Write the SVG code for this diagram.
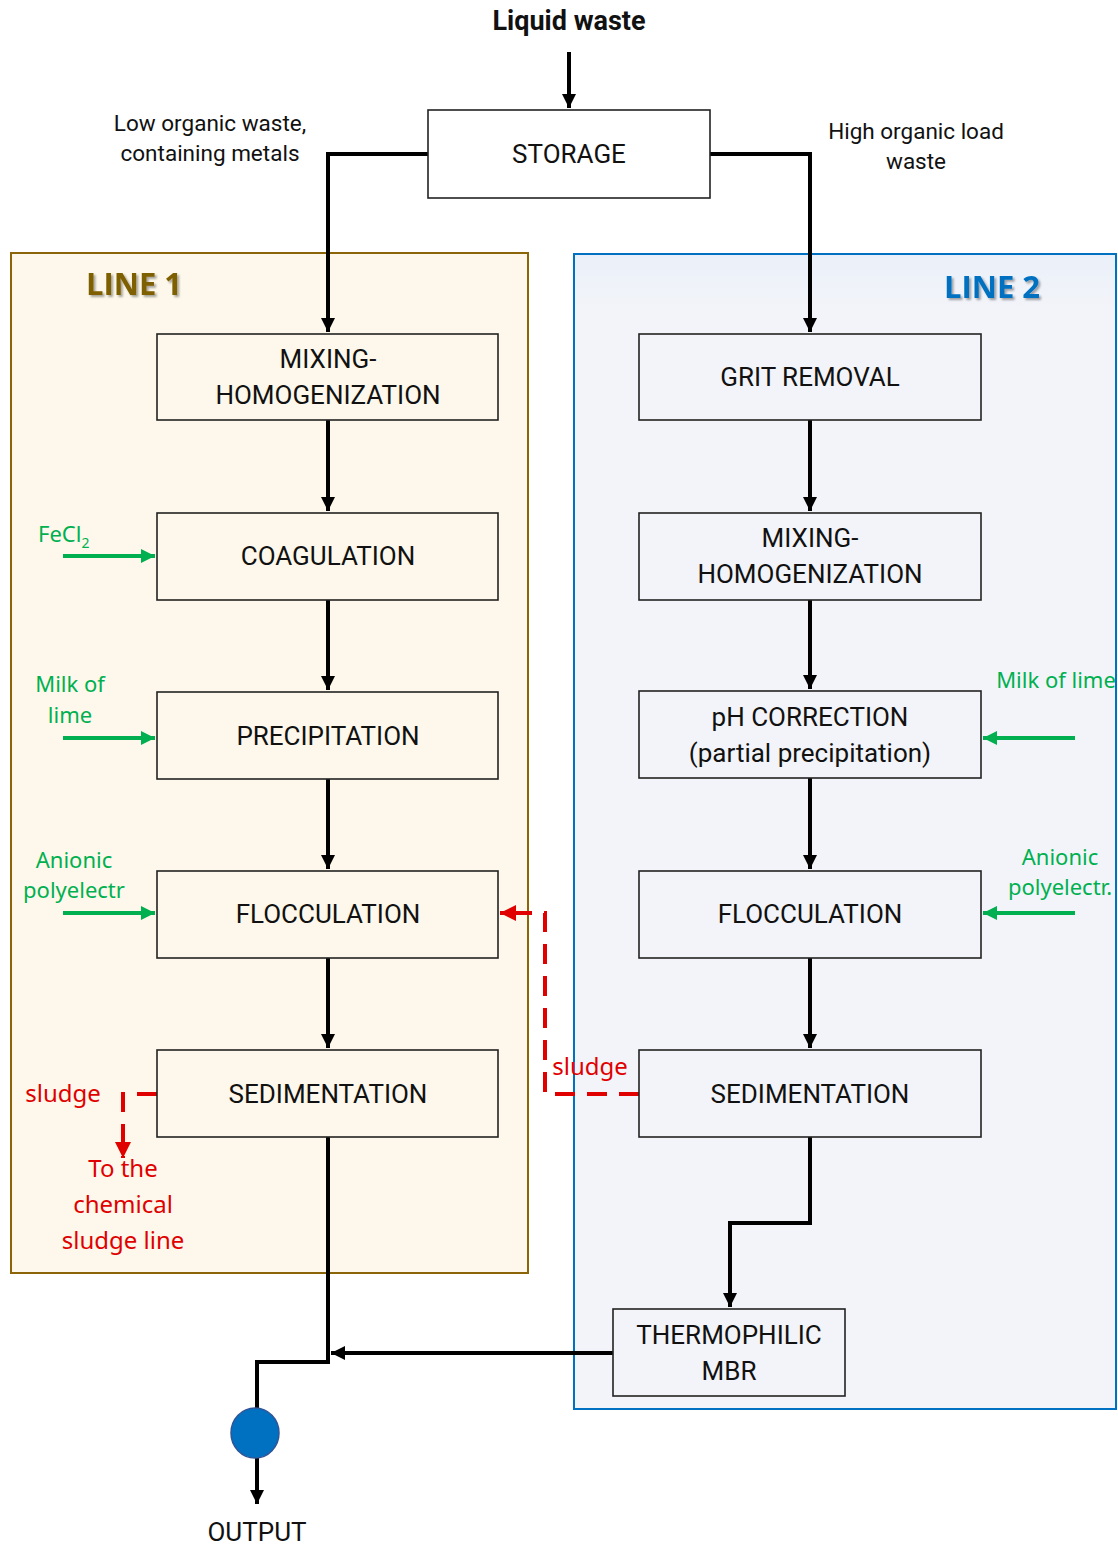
<svg xmlns="http://www.w3.org/2000/svg" width="1118" height="1544" viewBox="0 0 1118 1544">
<defs>
<style>
.box{fill:none;stroke:#222;stroke-width:1.6}
.bt{font-family:Roboto,"Liberation Sans",sans-serif;font-size:26px;fill:#111;text-anchor:middle}
.lbl{font-family:Roboto,"Liberation Sans",sans-serif;font-size:22.5px;fill:#111;text-anchor:middle}
.gt{font-family:"Noto Sans","Open Sans",sans-serif;font-size:22px;fill:#00b050;text-anchor:middle}
.rt{font-family:"Noto Sans","Open Sans",sans-serif;font-size:24px;fill:#e00000;text-anchor:middle}
.k{fill:none;stroke:#000;stroke-width:4}
.g{fill:none;stroke:#00b050;stroke-width:4}
.r{fill:none;stroke:#e00000;stroke-width:4;stroke-dasharray:20 12}
</style>
<marker id="ak" viewBox="0 0 10 10" refX="10" refY="5" markerWidth="3.5" markerHeight="3.5" orient="auto" markerUnits="strokeWidth"><path d="M0,0L10,5L0,10z" fill="#000"/></marker>
<marker id="ag" viewBox="0 0 10 10" refX="10" refY="5" markerWidth="3.5" markerHeight="3.5" orient="auto" markerUnits="strokeWidth"><path d="M0,0L10,5L0,10z" fill="#00b050"/></marker>
<marker id="ar" viewBox="0 0 10 10" refX="10" refY="5" markerWidth="4" markerHeight="4" orient="auto" markerUnits="strokeWidth"><path d="M0,0L10,5L0,10z" fill="#e00000"/></marker>
<filter id="sh" x="-10%" y="-10%" width="130%" height="140%"><feDropShadow dx="2" dy="2" stdDeviation="1.2" flood-color="#000" flood-opacity="0.35"/></filter>
<linearGradient id="l2g" x1="0" y1="0" x2="0" y2="1"><stop offset="0" stop-color="#eaf0f9"/><stop offset="0.05" stop-color="#f3f4f9"/><stop offset="1" stop-color="#f3f4f9"/></linearGradient>
</defs>
<rect width="1118" height="1544" fill="#fff"/>

<g id="line1">
<rect x="11" y="253" width="517" height="1020" fill="#fdf8eb" stroke="#8b6508" stroke-width="2"/>
<text x="134" y="295" font-family="'Open Sans','Noto Sans',sans-serif" font-weight="bold" font-size="31" fill="#7f6000" text-anchor="middle" filter="url(#sh)">LINE 1</text>
</g>
<g id="line2">
<rect x="574" y="254" width="542" height="1155" fill="url(#l2g)" stroke="#0070c0" stroke-width="2"/>
<text x="992" y="298" font-family="'Open Sans','Noto Sans',sans-serif" font-weight="bold" font-size="31" fill="#0070c0" text-anchor="middle" filter="url(#sh)">LINE 2</text>
</g>

<g id="connectors">
<path class="k" d="M569,52V108" marker-end="url(#ak)"/>
<path class="k" d="M428,154H328V332" marker-end="url(#ak)"/>
<path class="k" d="M710,154H810V332" marker-end="url(#ak)"/>
<path class="k" d="M328,420V511" marker-end="url(#ak)"/>
<path class="k" d="M328,600V690" marker-end="url(#ak)"/>
<path class="k" d="M328,779V869" marker-end="url(#ak)"/>
<path class="k" d="M328,958V1048" marker-end="url(#ak)"/>
<path class="k" d="M810,420V511" marker-end="url(#ak)"/>
<path class="k" d="M810,600V689" marker-end="url(#ak)"/>
<path class="k" d="M810,778V869" marker-end="url(#ak)"/>
<path class="k" d="M810,958V1048" marker-end="url(#ak)"/>
<path class="k" d="M810,1137V1223H730V1307" marker-end="url(#ak)"/>
<path class="k" d="M613,1353H331" marker-end="url(#ak)"/>
<path class="k" d="M328,1137V1362H257V1408"/>
<path class="k" d="M257,1458V1504" marker-end="url(#ak)"/>
<path class="g" d="M63,556H155" marker-end="url(#ag)"/>
<path class="g" d="M63,738H155" marker-end="url(#ag)"/>
<path class="g" d="M63,913H155" marker-end="url(#ag)"/>
<path class="g" d="M1075,738H983" marker-end="url(#ag)"/>
<path class="g" d="M1075,913H983" marker-end="url(#ag)"/>
<path class="r" d="M639,1094H545V913H518"/>
<path d="M518,913H500" stroke="#e00000" stroke-width="4" marker-end="url(#ar)"/>
<path class="r" d="M157,1094H123V1158" marker-end="url(#ar)"/>
</g>

<g id="storage"><rect class="box" x="428" y="110" width="282" height="88" fill="#fff"/><text class="bt" x="569" y="163">STORAGE</text></g>

<g id="mix1"><rect class="box" x="157" y="334" width="341" height="86"/><text class="bt" x="328" y="368">MIXING-</text><text class="bt" x="328" y="404">HOMOGENIZATION</text></g>
<g id="coag"><rect class="box" x="157" y="513" width="341" height="87"/><text class="bt" x="328" y="565">COAGULATION</text></g>
<g id="precip"><rect class="box" x="157" y="692" width="341" height="87"/><text class="bt" x="328" y="745">PRECIPITATION</text></g>
<g id="floc1"><rect class="box" x="157" y="871" width="341" height="87"/><text class="bt" x="328" y="923">FLOCCULATION</text></g>
<g id="sed1"><rect class="box" x="157" y="1050" width="341" height="87"/><text class="bt" x="328" y="1103">SEDIMENTATION</text></g>

<g id="grit"><rect class="box" x="639" y="334" width="342" height="86"/><text class="bt" x="810" y="386">GRIT REMOVAL</text></g>
<g id="mix2"><rect class="box" x="639" y="513" width="342" height="87"/><text class="bt" x="810" y="547">MIXING-</text><text class="bt" x="810" y="583">HOMOGENIZATION</text></g>
<g id="ph"><rect class="box" x="639" y="691" width="342" height="87"/><text class="bt" x="810" y="726">pH CORRECTION</text><text class="bt" x="810" y="762">(partial precipitation)</text></g>
<g id="floc2"><rect class="box" x="639" y="871" width="342" height="87"/><text class="bt" x="810" y="923">FLOCCULATION</text></g>
<g id="sed2"><rect class="box" x="639" y="1050" width="342" height="87"/><text class="bt" x="810" y="1103">SEDIMENTATION</text></g>
<g id="mbr"><rect class="box" x="613" y="1309" width="232" height="87"/><text class="bt" x="729" y="1344">THERMOPHILIC</text><text class="bt" x="729" y="1380">MBR</text></g>

<g id="pump"><ellipse cx="255" cy="1433" rx="24" ry="25" fill="#0070c0" stroke="#2f5597" stroke-width="1.5"/></g>

<g id="labels">
<text x="569" y="30" font-family="Roboto,'Liberation Sans',sans-serif" font-weight="bold" font-size="27" fill="#111" text-anchor="middle">Liquid waste</text>
<text class="lbl" x="210" y="131">Low organic waste,</text>
<text class="lbl" x="210" y="161">containing metals</text>
<text class="lbl" x="916" y="139">High organic load</text>
<text class="lbl" x="916" y="169">waste</text>
<text class="bt" x="257" y="1541">OUTPUT</text>
<text class="gt" x="38" y="542" style="text-anchor:start">FeCl<tspan font-size="14" dy="6">2</tspan></text>
<text class="gt" x="70" y="692">Milk of</text>
<text class="gt" x="70" y="723">lime</text>
<text class="gt" x="74" y="868">Anionic</text>
<text class="gt" x="74" y="898">polyelectr</text>
<text class="gt" x="1056" y="688">Milk of lime</text>
<text class="gt" x="1060" y="865">Anionic</text>
<text class="gt" x="1060" y="895">polyelectr.</text>
<text class="rt" x="590" y="1075">sludge</text>
<text class="rt" x="63" y="1102">sludge</text>
<text class="rt" x="123" y="1177">To the</text>
<text class="rt" x="123" y="1213">chemical</text>
<text class="rt" x="123" y="1249">sludge line</text>
</g>
</svg>
